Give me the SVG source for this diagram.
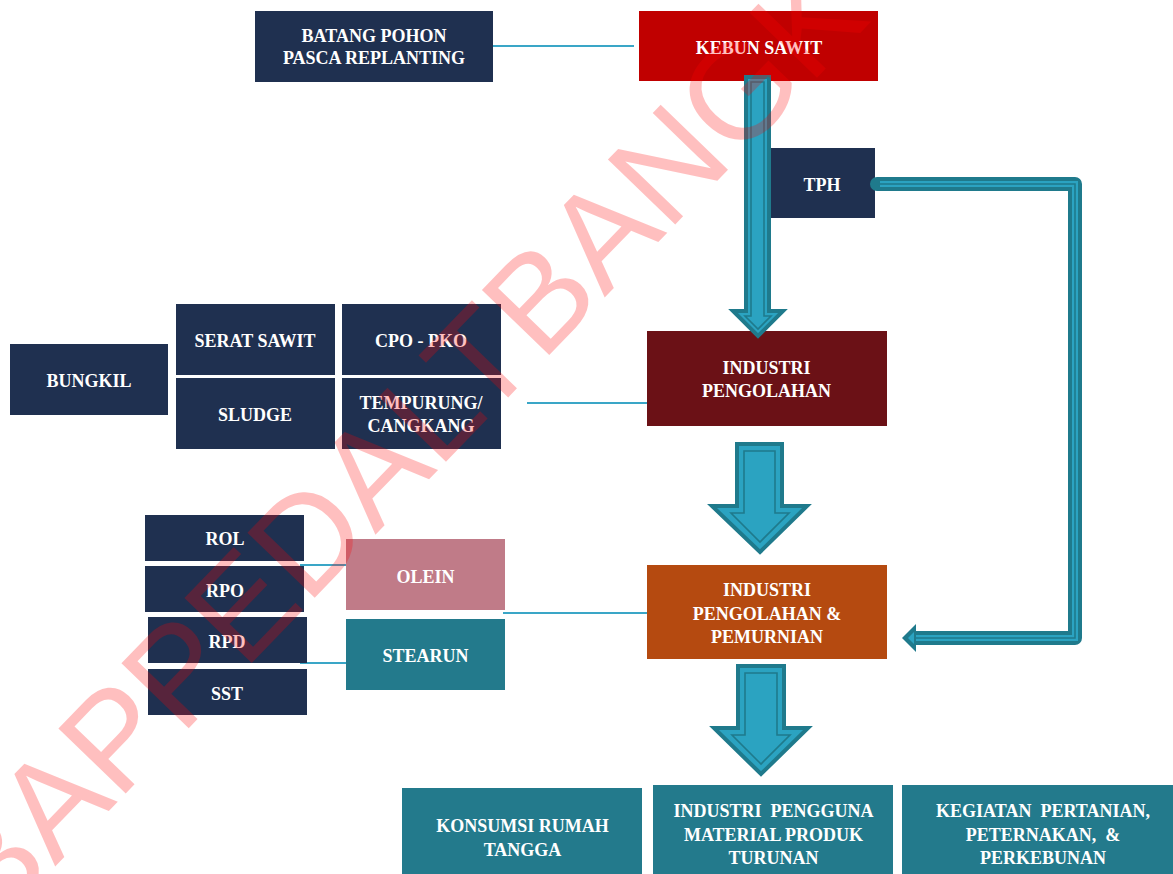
<svg xmlns="http://www.w3.org/2000/svg" width="1173" height="874" viewBox="0 0 1173 874">
  <style>
    .navy { fill: #1f3050; }
    .teal { fill: #237a8c; }
    .lbl { font-family: "Liberation Serif", "DejaVu Serif", serif; font-weight: bold; font-size: 18px; fill: #ffffff; text-anchor: middle; }
    .pre { white-space: pre; }
    .link { stroke: #3aa6c7; stroke-width: 2; fill: none; }
    .arrow { fill: #2ba3c1; stroke: #1f7a8c; stroke-width: 4; stroke-linejoin: miter; }
    .arrow-in { fill: none; stroke: #1f7a8c; stroke-width: 1.6; stroke-linejoin: miter; }
    .mark { font-family: "Liberation Sans", Arial, sans-serif; font-size: 136px; fill: #ff0000; fill-opacity: 0.25; }
  </style>

  <rect width="1173" height="874" fill="#ffffff"/>

  <!-- thin connectors -->
  <g id="connectors">
    <line class="link" x1="493" y1="46" x2="634" y2="46"/>
    <line class="link" x1="527" y1="403" x2="670" y2="403"/>
    <line class="link" x1="300" y1="565" x2="347" y2="565"/>
    <line class="link" x1="300" y1="663" x2="347" y2="663"/>
    <line class="link" x1="503" y1="613" x2="647" y2="613"/>
  </g>

  <!-- nodes -->
  <g id="batang">
    <rect class="navy" x="255" y="11" width="238" height="71"/>
    <text class="lbl" x="374" y="42">BATANG POHON</text>
    <text class="lbl" x="374" y="64">PASCA REPLANTING</text>
  </g>
  <g id="kebun">
    <rect x="639" y="11" width="239" height="70" fill="#c00000"/>
    <text class="lbl" x="759" y="53.5">KEBUN SAWIT</text>
  </g>
  <g id="tph">
    <rect class="navy" x="769" y="148" width="106" height="70"/>
    <text class="lbl" x="822" y="191">TPH</text>
  </g>
  <g id="industri-pengolahan">
    <rect x="647" y="331" width="240" height="95" fill="#6b1116"/>
    <text class="lbl" x="766.5" y="374">INDUSTRI</text>
    <text class="lbl" x="766.5" y="397">PENGOLAHAN</text>
  </g>
  <g id="industri-pemurnian">
    <rect x="647" y="565" width="240" height="94" fill="#b54a10"/>
    <text class="lbl" x="767" y="596">INDUSTRI</text>
    <text class="lbl" x="767" y="620">PENGOLAHAN &amp;</text>
    <text class="lbl" x="767" y="643">PEMURNIAN</text>
  </g>

  <g id="bungkil">
    <rect class="navy" x="10" y="344" width="158" height="71"/>
    <text class="lbl" x="89" y="387">BUNGKIL</text>
  </g>
  <g id="serat-sawit">
    <rect class="navy" x="176" y="304" width="159" height="71"/>
    <text class="lbl" x="255" y="347">SERAT SAWIT</text>
  </g>
  <g id="cpo-pko">
    <rect class="navy" x="342" y="304" width="159" height="71"/>
    <text class="lbl" x="421" y="347">CPO - PKO</text>
  </g>
  <g id="sludge">
    <rect class="navy" x="176" y="378" width="159" height="71"/>
    <text class="lbl" x="255" y="420.5">SLUDGE</text>
  </g>
  <g id="tempurung">
    <rect class="navy" x="342" y="378" width="159" height="71"/>
    <text class="lbl" x="421" y="409">TEMPURUNG/</text>
    <text class="lbl" x="421" y="432">CANGKANG</text>
  </g>

  <g id="rol">
    <rect class="navy" x="145" y="515" width="159" height="46"/>
    <text class="lbl" x="225" y="545">ROL</text>
  </g>
  <g id="rpo">
    <rect class="navy" x="145" y="566" width="159" height="46"/>
    <text class="lbl" x="225" y="597">RPO</text>
  </g>
  <g id="rpd">
    <rect class="navy" x="148" y="617" width="159" height="46"/>
    <text class="lbl" x="227" y="648">RPD</text>
  </g>
  <g id="sst">
    <rect class="navy" x="148" y="669" width="159" height="46"/>
    <text class="lbl" x="227" y="700">SST</text>
  </g>
  <g id="olein">
    <rect x="346" y="539" width="159" height="71" fill="#c07b88"/>
    <text class="lbl" x="425.5" y="582.5">OLEIN</text>
  </g>
  <g id="stearun">
    <rect class="teal" x="346" y="619" width="159" height="71"/>
    <text class="lbl" x="425.5" y="662">STEARUN</text>
  </g>

  <g id="konsumsi">
    <rect class="teal" x="402" y="788" width="240" height="90"/>
    <text class="lbl" x="522.5" y="831.5">KONSUMSI RUMAH</text>
    <text class="lbl" x="522.5" y="856">TANGGA</text>
  </g>
  <g id="industri-pengguna">
    <rect class="teal" x="653" y="785" width="240" height="93"/>
    <text class="lbl pre" x="773.5" y="816.5">INDUSTRI  PENGGUNA</text>
    <text class="lbl" x="773.5" y="840.5">MATERIAL PRODUK</text>
    <text class="lbl" x="773.5" y="864">TURUNAN</text>
  </g>
  <g id="kegiatan">
    <rect class="teal" x="902" y="785" width="275" height="93"/>
    <text class="lbl pre" x="1043" y="816.5">KEGIATAN  PERTANIAN,</text>
    <text class="lbl pre" x="1043" y="840.5">PETERNAKAN,  &amp;</text>
    <text class="lbl" x="1043" y="864">PERKEBUNAN</text>
  </g>

  <!-- block arrows -->
  <g id="flow-arrows">
    <polygon class="arrow" points="746,77 769,77 769,311 783,311 758,336 733,311 746,311"/>
    <polygon class="arrow-in" points="751,82 764,82 764,316 771,316 758,329 745,316 751,316"/>

    <polygon class="arrow" points="737,444 782,444 782,506 807,506 760,552 712,506 737,506"/>
    <polygon class="arrow-in" points="744,451 775,451 775,513 789,513 760,542 731,513 744,513"/>

    <polygon class="arrow" points="738,666 784,666 784,728 808,728 761,774 714,728 738,728"/>
    <polygon class="arrow-in" points="745,673 777,673 777,735 790,735 761,764 732,735 745,735"/>

    <!-- return line from TPH -->
    <path d="M877,184 H1075 V638 H914" fill="none" stroke="#1f7a8c" stroke-width="14" stroke-linecap="round" stroke-linejoin="round"/>
    <path d="M880,184 H1075 V638 H914" fill="none" stroke="#2ba3c1" stroke-width="6" stroke-linejoin="miter"/>
    <path d="M880,184 H1075 V638 H914" fill="none" stroke="#1f7a8c" stroke-width="1.6" stroke-linejoin="miter"/>
    <polygon points="902,638 916,624 916,652" fill="#1f7a8c"/>
    <polygon points="908,638 914,632 914,644" fill="#2ba3c1"/>
  </g>

  <!-- watermark -->
  <text class="mark" transform="translate(-8,932) rotate(-46)">BAPPEDALTBANGK</text>
</svg>
